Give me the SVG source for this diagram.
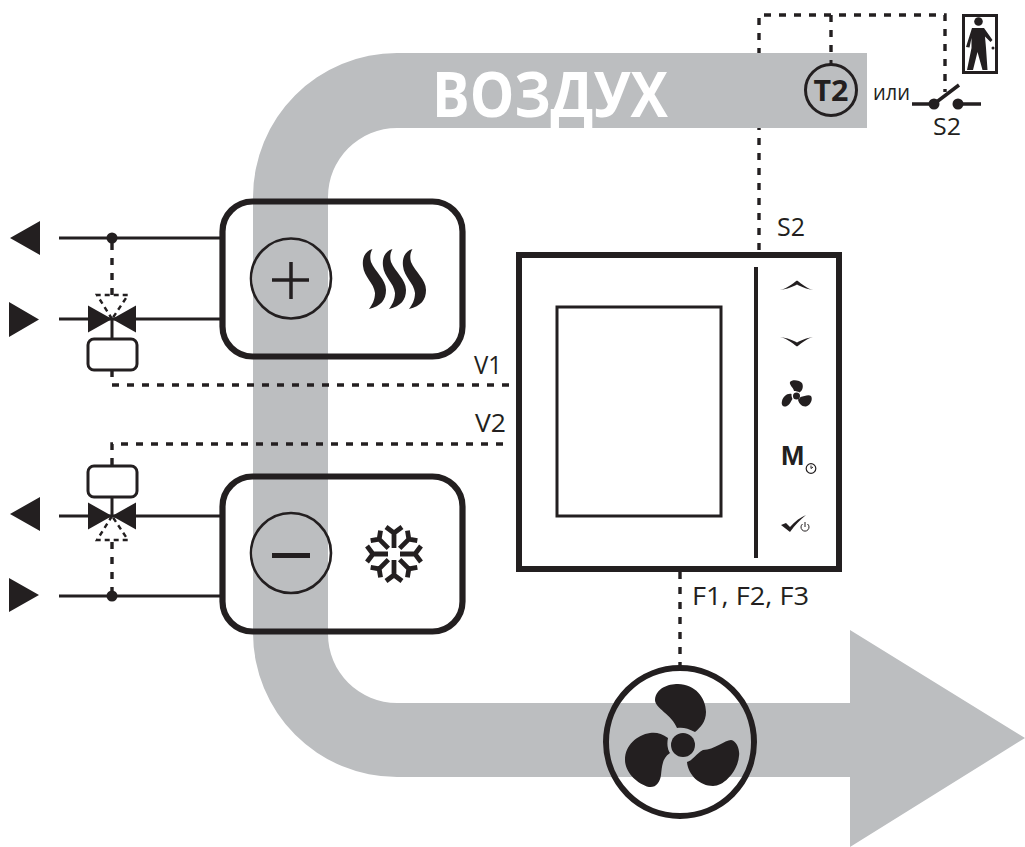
<svg xmlns="http://www.w3.org/2000/svg" width="1025" height="847" viewBox="0 0 1025 847">
<defs>
<style>
.t{font-family:"Open Sans","Liberation Sans",sans-serif;fill:#231F20}
.l{font-size:26px}
.ln{fill:none;stroke:#231F20;stroke-width:3}
.d{fill:none;stroke:#231F20;stroke-width:3.400;stroke-dasharray:7 8}
.k{fill:#231F20}
.thick{fill:none;stroke:#231F20;stroke-width:6.200}
</style>
<g id="valve-body"><path class="k" d="M-24,-13.5 L0,0 L-24,13.5Z M24,-13.5 L0,0 L24,13.5Z"/></g>
</defs>
<rect width="1025" height="847" fill="#fff"/>
<g id="connectors-under">
<path class="d" d="M759,250 V15 H945 V92"/>
<path class="d" d="M831,15 V62"/>
</g>
<path id="air" fill="#BCBEC0" d="M867,53 H397 A144,144 0 0 0 253,197 V633 A144,144 0 0 0 397,777 H850 V847 L1025,738 L850,630 V703 H397 A69,69 0 0 1 328,634 V197 A69,69 0 0 1 397,128 H867Z"/>
<text class="t" x="432" y="117" font-size="62" font-weight="700" style="fill:#fff" textLength="236" lengthAdjust="spacingAndGlyphs">ВОЗДУХ</text>

<g id="connectors">
<path class="d" d="M112,243 V295"/>
<path class="d" d="M112,370 V385 H511"/>
<path class="d" d="M112,465 V444 H511"/>
<path class="d" d="M112,542 V592"/>
<path class="d" d="M680,572 V666"/>
<path class="ln" d="M59,238 H220 M59,319 H220 M59,516 H220 M59,596 H220"/>
<path class="ln" d="M112,319 V339 M112,497 V516"/>
</g>

<g id="arrows">
<path class="k" d="M10,238 L40,221 V255Z M9,302 L39,319.5 L9,337Z M10,514 L40,497 V531Z M9,578 L39,595 L9,612Z"/>
</g>

<g id="valve-top">
<use href="#valve-body" x="112" y="319"/>
<path fill="none" stroke="#231F20" stroke-width="2.400" stroke-dasharray="5 4" d="M112,319 L97,295 H128 Z"/>
<rect x="88" y="339" width="49" height="31" rx="6" fill="#fff" stroke="#231F20" stroke-width="3"/>
<circle class="k" cx="112" cy="238" r="5.500"/>
</g>
<g id="valve-bottom">
<use href="#valve-body" x="112" y="516"/>
<path fill="none" stroke="#231F20" stroke-width="2.400" stroke-dasharray="5 4" d="M112,516 L97,540 H128 Z"/>
<rect x="88" y="466" width="49" height="31" rx="6" fill="#fff" stroke="#231F20" stroke-width="3"/>
<circle class="k" cx="112" cy="596" r="5.500"/>
</g>

<g id="heater">
<rect class="thick" x="222.500" y="201.500" width="240" height="155" rx="30"/>
<circle cx="291" cy="278.500" r="40" fill="none" stroke="#231F20" stroke-width="2.600"/>
<path fill="none" stroke="#231F20" stroke-width="3.500" d="M272,280 H309 M291,262 V299"/>
<path id="w" class="k" d="M372.500,249 C365,251 362,258 363,266 C364,277 374,283 375,293 C375,300 372,305 369,309 C381,306 386,300 386,290 C386,279 375,272 371,262 C369.500,257 370.500,252 372.500,249Z"/>
<use href="#w" x="20"/><use href="#w" x="40"/>
</g>

<g id="cooler">
<rect class="thick" x="222.500" y="476.500" width="240" height="155" rx="30"/>
<circle cx="291" cy="553" r="40" fill="none" stroke="#231F20" stroke-width="2.600"/>
<rect class="k" x="272" y="553" width="38" height="5"/>
<g fill="none" stroke="#231F20" stroke-width="4.800">
<path id="s" d="M394,548 V532 M386,527 L394,533 L402,527"/>
<path id="s2" transform="rotate(45 394 554)" d="M394,546 V533 M387,528 L394,533 L401,528"/>
<use href="#s" transform="rotate(90 394 554)"/><use href="#s" transform="rotate(180 394 554)"/><use href="#s" transform="rotate(270 394 554)"/>
<use href="#s2" transform="rotate(90 394 554)"/><use href="#s2" transform="rotate(180 394 554)"/><use href="#s2" transform="rotate(270 394 554)"/>
</g>
</g>

<g id="controller">
<rect x="519" y="255" width="320" height="314" fill="#fff" stroke="#231F20" stroke-width="6"/>
<rect x="557" y="307" width="164" height="209" fill="#fff" stroke="#231F20" stroke-width="3"/>
<path fill="none" stroke="#231F20" stroke-width="4" d="M756,267 V558"/>
<path class="k" d="M780,290 C788,288 792,284 797,280.500 C802,284 806,288 813,290 C806,289 802,287 797,284.500 C792,287 788,289 780,290Z"/>
<path class="k" d="M780,337 C788,339 792,343 797,346.500 C802,343 806,339 813,337 C806,338 802,340 797,342.500 C792,340 788,338 780,337Z"/>
<g class="k">
<circle cx="796.500" cy="396" r="3.500"/>
<path d="M794,391 C793,387 789,385 790,382 C792,379 800,380 802,383 C804,387 802,391 799.500,392.500 C798,391.500 796,391 794,391Z"/>
<path d="M791.500,394 C787,393 783,397 782,401 C781,405 783,407 786,406.500 C790,405 791,401 792.500,399 C791.500,397 791.500,395.500 791.500,394Z"/>
<path d="M800.500,397 C804,396 809,394 811,396 C813,399 811,405 806,406.500 C802,407 798.500,403 798,399.500 C799,399 800,398 800.500,397Z"/>
</g>
<text class="t" x="781" y="465" font-size="28" font-weight="700" style="font-family:'Liberation Sans',sans-serif">M</text>
<circle cx="811" cy="468.500" r="4.800" fill="none" stroke="#231F20" stroke-width="1.200"/>
<path fill="none" stroke="#231F20" stroke-width="1" d="M811,465.500 V468.500 L813,467"/>
<path class="k" d="M781,525 L786,523 L790,527 C795,521 801,517 806,515 C800,520 795,525 790,532Z"/>
<path fill="none" stroke="#231F20" stroke-width="1" d="M802.500,524 A4,4 0 1 0 807.500,524 M805,522 V527"/>
</g>

<g id="t2">
<circle cx="831" cy="90" r="25.500" fill="none" stroke="#231F20" stroke-width="3"/>
<path class="ln" d="M831,60 V65"/>
<text class="t" x="813.500" y="101" font-size="29" font-weight="700" textLength="35" lengthAdjust="spacingAndGlyphs">T2</text>
</g>

<g id="switch">
<path fill="none" stroke="#231F20" stroke-width="3.500" d="M912,104 H934 L959,85 M958,104 H981"/>
<circle class="k" cx="934" cy="104" r="5.500"/>
<circle class="k" cx="958" cy="104" r="5.500"/>
</g>

<g id="person">
<rect x="963.500" y="15.500" width="33" height="57" fill="#fff" stroke="#231F20" stroke-width="3"/>
<circle class="k" cx="978.500" cy="21.500" r="4.300"/>
<path class="k" d="M972,28 H984 L992.500,40 L990.500,42 L985,36.500 L986,48 L987.500,70 H982.500 L977.500,52 L973,70 H967 L971.500,48 V38 L969.500,47.500 L966,47 Z"/>
<circle class="k" cx="993" cy="48" r="1.500"/>
</g>

<g id="fan">
<circle cx="680" cy="742" r="74" fill="none" stroke="#231F20" stroke-width="6"/>
<path class="k" d="M677,728 C672,715 655,708 655,700 C656,688 668,684 678,684 C695,684 706,698 706,712 C706,722 700,728 695,732 C688,728 682,727 677,728Z"/>
<path class="k" d="M668,738 C662,733 655,732 650,733 C637,735 625,745 625,760 C625,772 637,784 649,787 C656,788 660,782 661,775 C662,767 662,758 670,753 C667,748 667,743 668,738Z"/>
<path class="k" d="M687,762 C692,761 697,753 703,750 C714,750 725,740 731,740 C737,741 740,750 739,756 C738,770 725,786 713,786 C700,786 688,775 687,762Z"/>
<circle cx="683" cy="745" r="15" fill="#BCBEC0"/>
<circle class="k" cx="683" cy="745" r="12"/>
</g>

<g id="labels">
<text class="t l" x="474" y="374" textLength="28" lengthAdjust="spacingAndGlyphs">V1</text>
<text class="t l" x="475" y="432" textLength="31" lengthAdjust="spacingAndGlyphs">V2</text>
<text class="t l" x="777" y="236" textLength="28" lengthAdjust="spacingAndGlyphs">S2</text>
<text class="t" x="692" y="605" font-size="25" textLength="117" lengthAdjust="spacingAndGlyphs">F1, F2, F3</text>
<text class="t" x="873" y="100" font-size="22" textLength="37" lengthAdjust="spacingAndGlyphs">или</text>
<text class="t" x="933" y="135" font-size="24" textLength="28" lengthAdjust="spacingAndGlyphs">S2</text>
</g>
</svg>
